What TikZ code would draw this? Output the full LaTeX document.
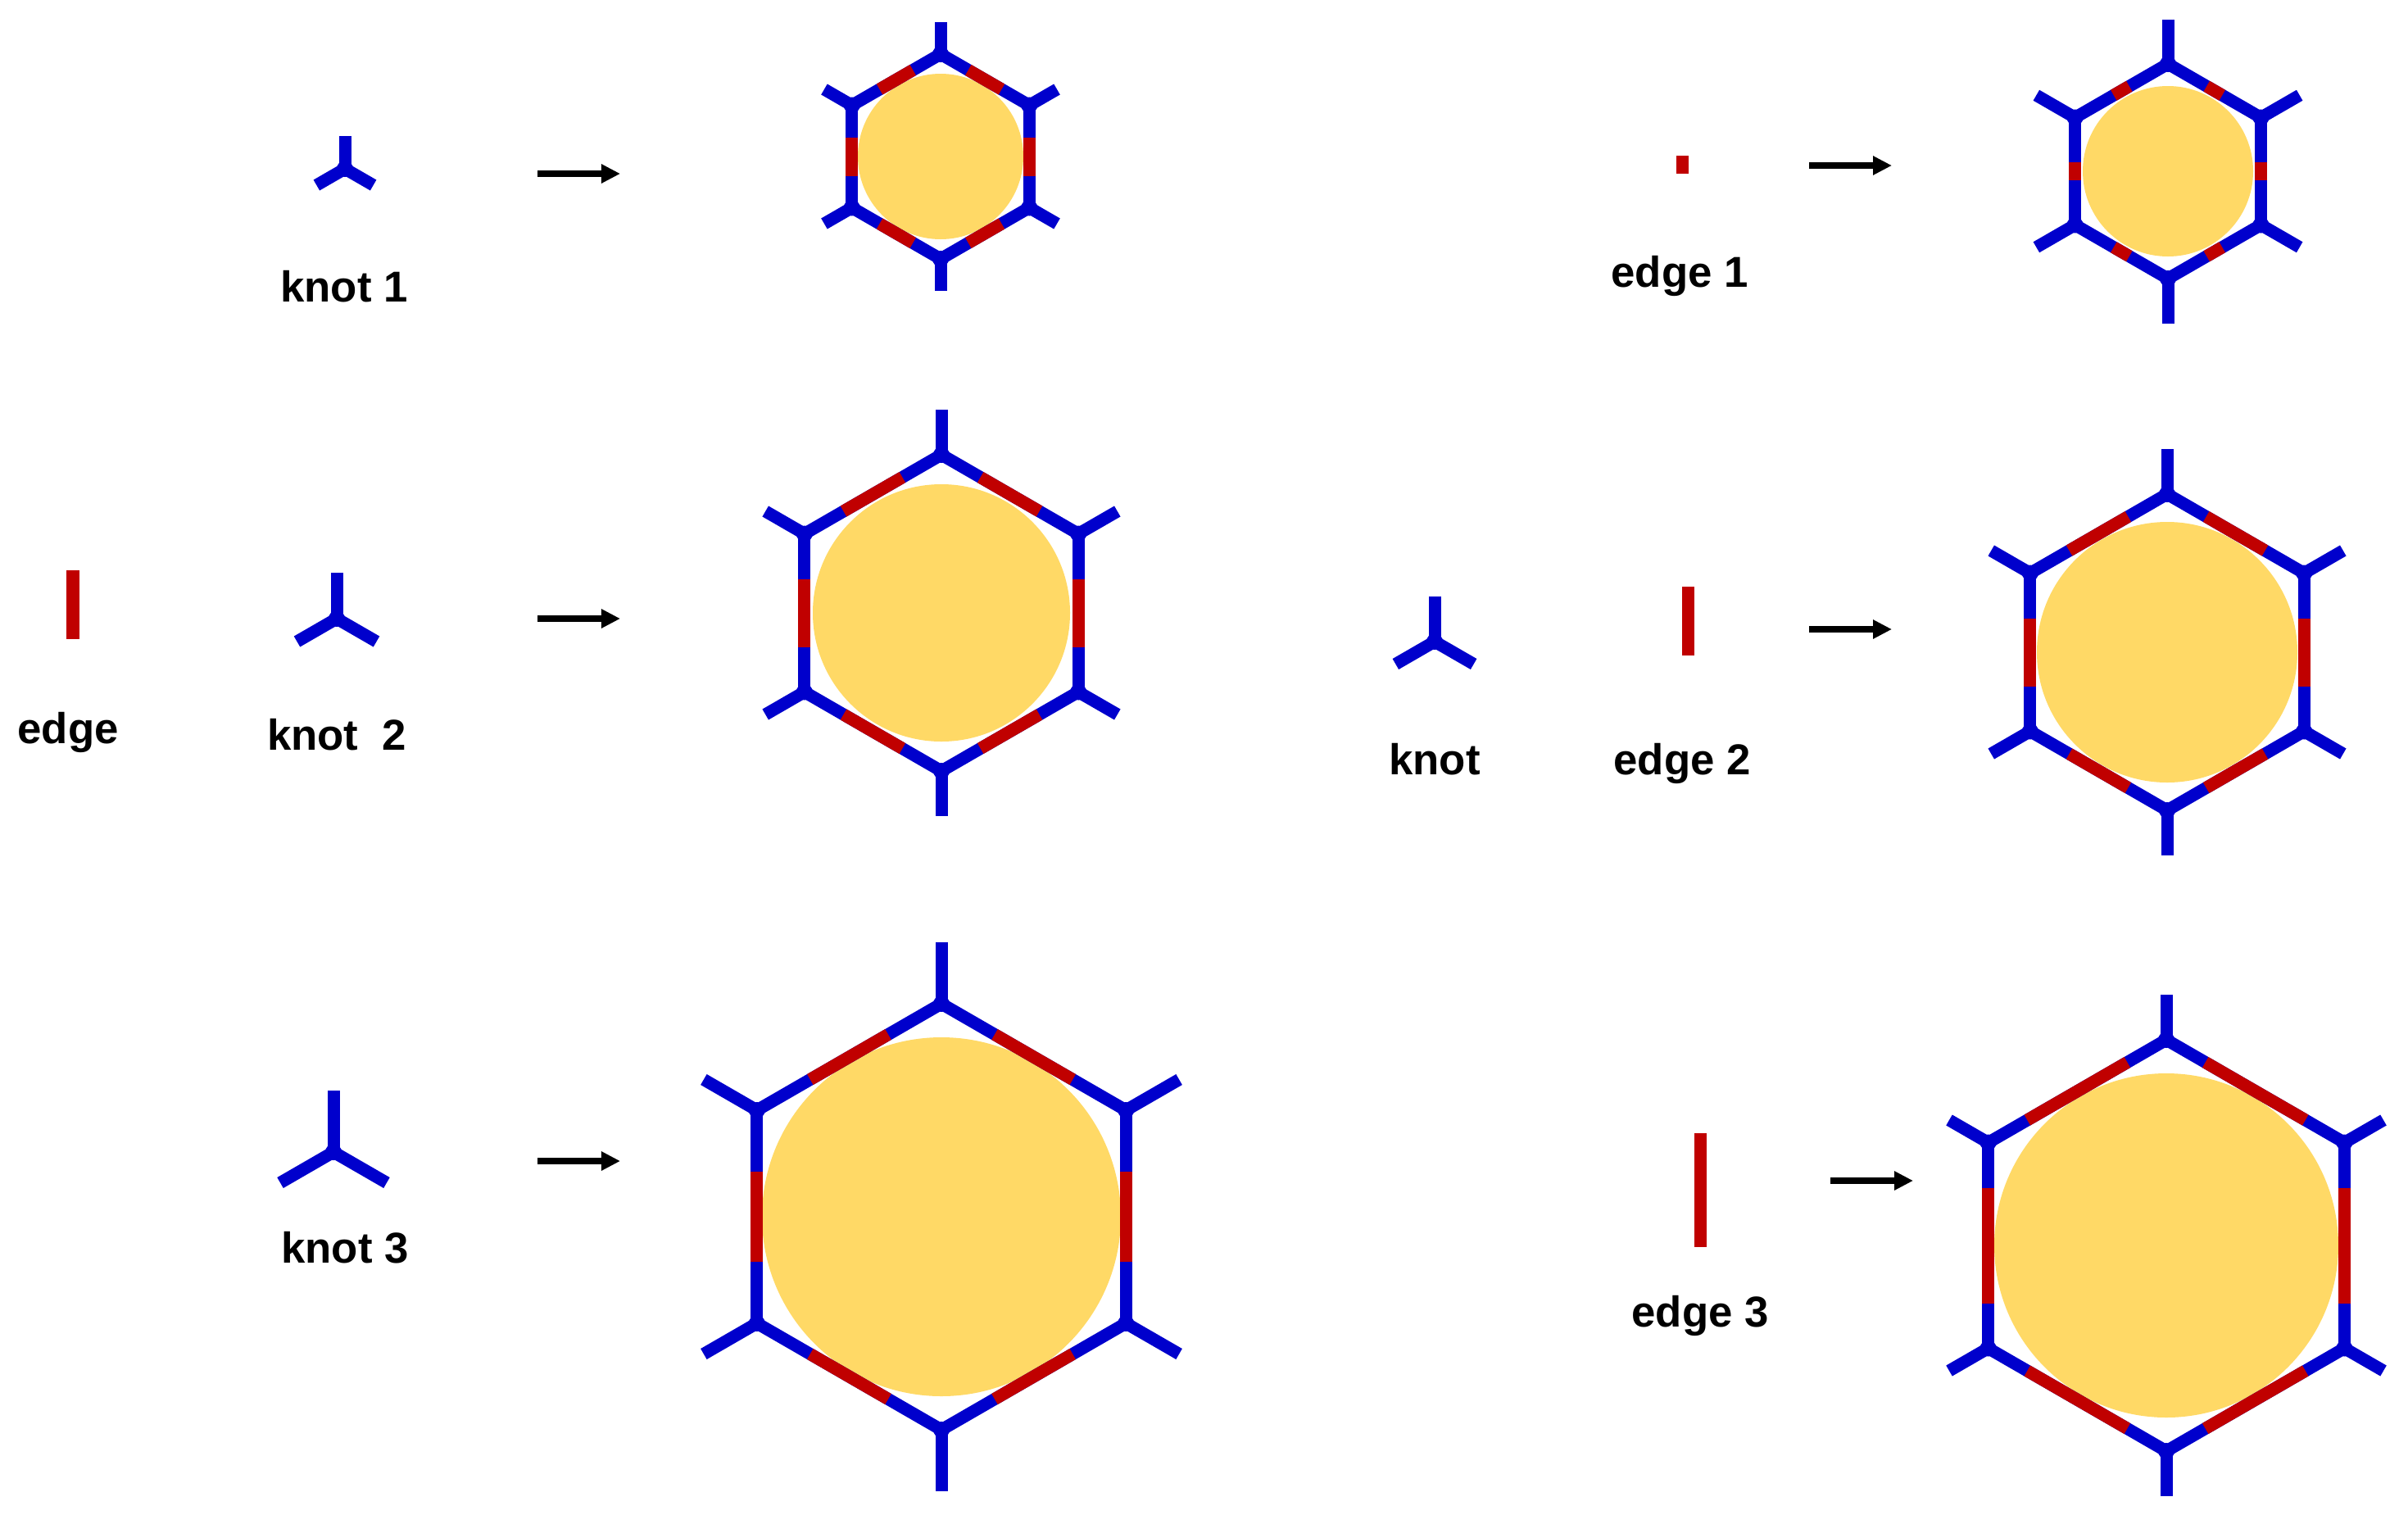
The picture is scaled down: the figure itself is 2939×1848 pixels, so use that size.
\documentclass[tikz,border=0pt]{standalone}
\usepackage{fontspec}
\setmainfont{Liberation Sans}
\usetikzlibrary{calc,arrows.meta}
\definecolor{hexblue}{RGB}{0,0,204}
\definecolor{hexred}{RGB}{192,0,0}
\definecolor{hexyel}{RGB}{255,217,102}
\tikzset{
  bl/.style={draw=hexblue, line width=0.15cm},
  rd/.style={draw=hexred, line width=0.15cm},
  yel/.style={fill=hexyel},
  blob/.style={fill=hexblue},
  arr/.style={line width=0.08cm, -{Triangle[length=0.23cm,width=0.22cm]}},
  lbl/.style={anchor=base, font=\fontsize{15}{18}\selectfont\bfseries, inner sep=0pt},
}
% #1 name, #2 cx, #3 cy, #4 R, #5 knot arm, #6 yellow radius
\newcommand{\hexcell}[6]{%
  \coordinate (#1) at (#2,#3);
  \fill[yel] (#1) circle[radius=#6];
  \foreach \ang [evaluate=\ang as \nxt using {\ang+60}] in {30,90,...,330}{
    \path ($(#1)+(\ang:#4)$) coordinate (#1-a) ($(#1)+(\nxt:#4)$) coordinate (#1-b);
    \draw[bl] (#1-a) -- ($(#1)+(\ang:{#4+#5})$);
    \draw[bl] (#1-a) -- (#1-b);
    \draw[rd] ($(#1-a)!{#5/#4}!(#1-b)$) -- ($(#1-a)!{1-#5/#4}!(#1-b)$);
    \fill[blob] (#1-a) circle[radius=0.1cm];
  }
}
% #1 name, #2 x, #3 y, #4 arm
\newcommand{\knotY}[4]{%
  \coordinate (#1) at (#2,#3);
  \draw[bl] (#1) -- ++(90:#4);
  \draw[bl] (#1) -- ++(210:#4);
  \draw[bl] (#1) -- ++(330:#4);
  \fill[blob] (#1) circle[radius=0.1cm];
}
\begin{document}
\begin{tikzpicture}[x=0.01cm,y=0.01cm]
\useasboundingbox (0,0) rectangle (2939,-1848);

% hexagons
\hexcell{hA}{1148}{-191}{125}{39}{101}
\hexcell{hB}{2646}{-209}{131}{54.5}{104}
\hexcell{hC}{1149}{-748}{193}{55}{157}
\hexcell{hD}{2645}{-796}{193}{55}{159}
\hexcell{hE}{1149}{-1485}{260}{75}{219}
\hexcell{hF}{2644}{-1520}{251}{55}{210}

% knots
\knotY{k1}{421}{-206}{40}
\knotY{k2}{411}{-755}{56}
\knotY{k3}{407}{-1406}{75}
\knotY{kM}{1751}{-783}{55}

% edges
\coordinate (e0a) at (89,-696);   \coordinate (e0b) at (89,-780);
\coordinate (e1a) at (2053,-190); \coordinate (e1b) at (2053,-212);
\coordinate (e2a) at (2060,-716); \coordinate (e2b) at (2060,-800);
\coordinate (e3a) at (2075,-1383);\coordinate (e3b) at (2075,-1522);
\draw[rd] (e0a) -- (e0b);
\draw[rd] (e1a) -- (e1b);
\draw[rd] (e2a) -- (e2b);
\draw[rd] (e3a) -- (e3b);

% arrows
\coordinate (a1s) at (656,-212);  \coordinate (a1e) at (757,-212);
\coordinate (a2s) at (656,-755);  \coordinate (a2e) at (757,-755);
\coordinate (a3s) at (656,-1417); \coordinate (a3e) at (757,-1417);
\coordinate (a4s) at (2208,-202); \coordinate (a4e) at (2309,-202);
\coordinate (a5s) at (2208,-768); \coordinate (a5e) at (2309,-768);
\coordinate (a6s) at (2234,-1441);\coordinate (a6e) at (2335,-1441);
\draw[arr] (a1s) -- (a1e);
\draw[arr] (a2s) -- (a2e);
\draw[arr] (a3s) -- (a3e);
\draw[arr] (a4s) -- (a4e);
\draw[arr] (a5s) -- (a5e);
\draw[arr] (a6s) -- (a6e);

% labels
\node[lbl] (l1) at (420,-368) {knot 1};
\node[lbl] (l2) at (2050,-350) {edge 1};
\node[lbl] (l3) at (83,-907) {edge};
\node[lbl] (l4) at (411,-915) {knot\ \ 2};
\node[lbl] (l5) at (1751,-945) {knot};
\node[lbl] (l6) at (2053,-945) {edge 2};
\node[lbl] (l7) at (421,-1541) {knot 3};
\node[lbl] (l8) at (2075,-1619) {edge 3};
\end{tikzpicture}
\end{document}
